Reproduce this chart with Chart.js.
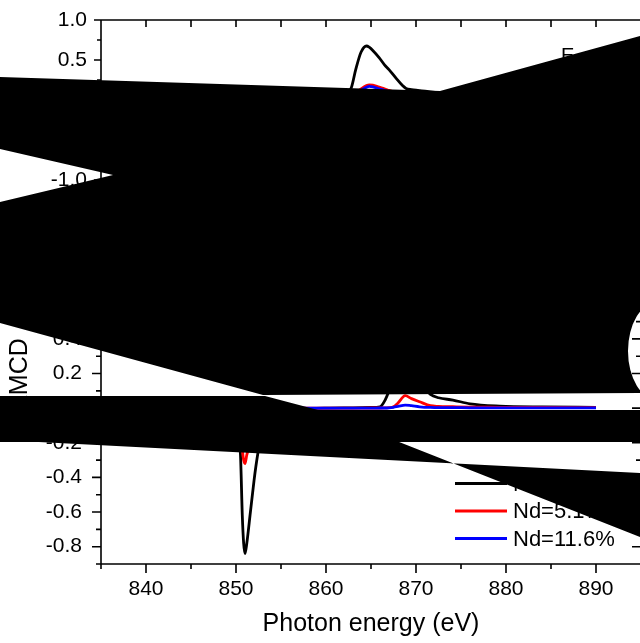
<!DOCTYPE html>
<html>
<head>
<meta charset="utf-8">
<script src="https://cdn.jsdelivr.net/npm/chart.js@4.4.1/dist/chart.umd.min.js"></script>
<style>
body { margin: 0; background: #fff; overflow: hidden; }
#wrap { position: relative; width: 640px; height: 643px; overflow: hidden; }
#wrap canvas { position: absolute; left: 0; top: 0; }
</style>
</head>
<body>
<div id="wrap">
  <canvas id="bottom" width="660" height="643"></canvas>
  <canvas id="top" width="660" height="240"></canvas>
  <canvas id="cover" width="640" height="643"></canvas>
</div>
<script>
// series labels / colours
var seriesLabels = ['Nd=0%', 'Nd=5.1%', 'Nd=11.6%'];
var seriesColors = ['#000000', '#ff0000', '#0000ff'];

// upper panel
var energyTop = [835.5, 840, 845, 848, 849.5, 850.3, 850.7, 851, 851.3, 851.7, 852.2, 853, 854, 856, 858, 860, 861.5, 862.3, 862.8, 863.3,
                 863.9, 864.5, 864.8, 865.2, 865.9, 866.5, 867, 867.8, 868.5, 868.9, 869.5, 870.2, 871, 872.5, 875, 878, 882, 886, 890];
var topNd0   = [0, 0, 0.01, 0.02, -0.05, -0.4, -1.0, -1.25, -1.1, -0.7, -0.35, -0.12, -0.02, 0.03, 0.05, 0.06, 0.08, 0.1, 0.15, 0.38,
                0.6, 0.675, 0.66, 0.62, 0.53, 0.44, 0.38, 0.27, 0.18, 0.145, 0.13, 0.12, 0.11, 0.09, 0.07, 0.06, 0.05, 0.05, 0.04];
var topNd51  = [0, 0, 0.005, 0.01, -0.02, -0.15, -0.35, -0.45, -0.4, -0.25, -0.12, -0.04, 0, 0.01, 0.02, 0.03, 0.04, 0.05, 0.06, 0.09,
                0.14, 0.18, 0.19, 0.185, 0.16, 0.14, 0.12, 0.09, 0.07, 0.06, 0.055, 0.05, 0.045, 0.04, 0.03, 0.025, 0.02, 0.02, 0.02];
var topNd116 = [0, 0, 0.004, 0.008, -0.015, -0.12, -0.28, -0.38, -0.33, -0.2, -0.1, -0.03, 0, 0.01, 0.02, 0.025, 0.035, 0.045, 0.05, 0.08,
                0.12, 0.16, 0.17, 0.165, 0.14, 0.12, 0.1, 0.08, 0.06, 0.055, 0.05, 0.045, 0.04, 0.035, 0.03, 0.025, 0.02, 0.02, 0.02];

// lower panel (XMCD)
var energyBot = [835.5, 840, 845, 848, 849.5, 850, 850.3, 850.5, 850.7, 850.85, 851, 851.2, 851.6, 852, 852.2, 852.5, 853, 854, 855, 857,
                 860, 863, 865, 866, 866.6, 867, 867.5, 868, 868.8, 869.5, 870.4, 871.6, 872.5, 874.1, 876, 879.3, 884, 890];
var xmcdNd0   = [0, 0, 0, -0.01, -0.03, -0.07, -0.15, -0.27, -0.62, -0.78, -0.84, -0.78, -0.6, -0.42, -0.34, -0.24, -0.14, -0.06, -0.03, -0.01,
                 0, 0.002, 0.004, 0.008, 0.05, 0.1, 0.18, 0.23, 0.245, 0.22, 0.15, 0.08, 0.06, 0.047, 0.025, 0.012, 0.007, 0.005];
var xmcdNd51  = [0, 0, 0, -0.005, -0.01, -0.03, -0.08, -0.15, -0.24, -0.3, -0.32, -0.27, -0.2, -0.12, -0.09, -0.06, -0.03, -0.01, -0.005, 0,
                 0, 0, 0.001, 0.001, 0.002, 0.003, 0.008, 0.03, 0.072, 0.055, 0.037, 0.014, 0.01, 0.008, 0.006, 0.005, 0.004, 0.003];
var xmcdNd116 = [0, 0, 0, -0.003, -0.008, -0.02, -0.05, -0.09, -0.13, -0.15, -0.16, -0.14, -0.1, -0.06, -0.045, -0.03, -0.015, -0.005, -0.002, 0,
                 0, 0, 0, 0.001, 0.001, 0.002, 0.005, 0.01, 0.018, 0.014, 0.008, 0.004, 0.003, 0.003, 0.002, 0.002, 0.002, 0.002];

// ticks
var xMajor = [840, 850, 860, 870, 880, 890];
var xMinor = [835, 845, 855, 865, 875, 885, 895];
var yTopMajor = [-1.5, -1.0, -0.5, 0.0, 0.5, 1.0];
var yTopMinor = [-1.25, -0.75, -0.25, 0.25, 0.75];
var yBotMajor = [-0.8, -0.6, -0.4, -0.2, 0.0, 0.2, 0.4, 0.6, 0.8, 1.0];
var yBotMinor = [-0.9, -0.7, -0.5, -0.3, -0.1, 0.1, 0.3, 0.5, 0.7, 0.9];

var FONT = '"Liberation Sans", Arial, sans-serif';

function pts(xs, ys) {
  return xs.map(function (x, i) { return { x: x, y: ys[i] }; });
}
function tickList(a, b) {
  return a.concat(b).sort(function (p, q) { return p - q; }).map(function (v) { return { value: v }; });
}
function isIn(list, v) {
  return list.some(function (m) { return Math.abs(m - v) < 1e-6; });
}
function makeSets(xs, series) {
  return series.map(function (s, i) {
    return {
      label: seriesLabels[i], data: pts(xs, s),
      borderColor: seriesColors[i], borderWidth: 2.8,
      pointRadius: 0, fill: false, cubicInterpolationMode: 'monotone',
      order: 2 - i
    };
  });
}

// Origin style frame with major / minor ticks
var framePlugin = {
  id: 'frame',
  afterDraw: function (chart, args, o) {
    var ctx = chart.ctx, a = chart.chartArea;
    var xs = chart.scales.x, ys = chart.scales.y;
    ctx.save();
    ctx.strokeStyle = '#000';
    ctx.lineWidth = 1.6;
    ctx.beginPath();
    ctx.rect(a.left, a.top, a.right - a.left, a.bottom - a.top);
    o.xMajor.concat(o.xMinor).forEach(function (v) {
      var p = xs.getPixelForValue(v);
      var len = isIn(o.xMajor, v) ? o.major : o.minor;
      ctx.moveTo(p, a.bottom); ctx.lineTo(p, a.bottom + len);
      ctx.moveTo(p, a.top); ctx.lineTo(p, a.top + (o.topLen || len));
    });
    o.yMajor.concat(o.yMinor).forEach(function (v) {
      var p = ys.getPixelForValue(v);
      var len = isIn(o.yMajor, v) ? o.major : o.minor;
      ctx.moveTo(a.left, p); ctx.lineTo(a.left - len, p);
      ctx.moveTo(a.right, p); ctx.lineTo(a.right - len, p);
    });
    ctx.stroke();
    ctx.restore();
  }
};

// legend and texts drawn inside the plot
var notesPlugin = {
  id: 'notes',
  afterDraw: function (chart, args, o) {
    var ctx = chart.ctx;
    ctx.save();
    ctx.fillStyle = '#000';
    if (o.legend) {
      ctx.font = '22px ' + FONT;
      ctx.textBaseline = 'middle';
      ctx.textAlign = 'left';
      chart.data.datasets.forEach(function (ds, i) {
        var y = 483.5 + i * 27.5;
        ctx.strokeStyle = ds.borderColor;
        ctx.lineWidth = 3;
        ctx.beginPath(); ctx.moveTo(455, y); ctx.lineTo(507, y); ctx.stroke();
        ctx.fillText(ds.label, 513, y + 1);
      });
      ctx.font = '25px ' + FONT;
      ctx.translate(20, 375);
      ctx.rotate(-Math.PI / 2);
      ctx.textAlign = 'center';
      ctx.fillText('XMCD', 0, 0);
    }
    if (o.mark) {
      ctx.font = '20px ' + FONT;
      ctx.textAlign = 'left';
      ctx.textBaseline = 'alphabetic';
      ctx.fillText(o.mark, chart.scales.x.getPixelForValue(886.1), chart.scales.y.getPixelForValue(0.65) + 14);
    }
    ctx.restore();
  }
};

function baseOptions(cfg) {
  return {
    responsive: false, animation: false, events: [],
    layout: { padding: { left: 0, right: 19, top: cfg.top, bottom: 0 } },
    plugins: {
      legend: { display: false }, tooltip: { enabled: false },
      frame: cfg.frame, notes: cfg.notes
    },
    scales: {
      x: {
        type: 'linear', min: 835, max: 895,
        grid: { display: false, drawTicks: false }, border: { display: false },
        afterBuildTicks: function (s) { s.ticks = tickList(xMajor, xMinor); },
        afterFit: function (s) { s.height = cfg.xHeight; s.paddingLeft = 0; s.paddingRight = 0; },
        ticks: {
          display: cfg.xLabels, autoSkip: false, maxRotation: 0, padding: 13, color: '#000',
          font: { family: FONT, size: 21 },
          callback: function (v) { return isIn(xMajor, v) ? String(v) : ''; }
        },
        title: {
          display: cfg.xLabels, text: 'Photon energy (eV)', color: '#000',
          font: { family: FONT, size: 25 }, padding: { top: 0, bottom: 4 }
        }
      },
      y: {
        type: 'linear', min: cfg.yMin, max: cfg.yMax,
        grid: { display: false, drawTicks: false }, border: { display: false },
        afterBuildTicks: function (s) { s.ticks = tickList(cfg.yMajor, cfg.yMinor); },
        afterFit: function (s) { s.width = 101; s.paddingTop = 0; s.paddingBottom = 0; },
        ticks: {
          autoSkip: false, padding: cfg.yPad, color: '#000',
          font: { family: FONT, size: 21 },
          callback: function (v) { return isIn(cfg.yMajor, v) ? v.toFixed(1) : ''; }
        }
      }
    }
  };
}

new Chart(document.getElementById('bottom'), {
  type: 'line',
  data: { datasets: makeSets(energyBot, [xmcdNd0, xmcdNd51, xmcdNd116]) },
  options: baseOptions({
    top: 235, xHeight: 79, xLabels: true, yMin: -0.9, yMax: 1.0,
    yMajor: yBotMajor, yMinor: yBotMinor, yPad: 19,
    frame: { xMajor: xMajor, xMinor: xMinor, yMajor: yBotMajor, yMinor: yBotMinor, major: 9, minor: 5 },
    notes: { legend: true }
  }),
  plugins: [framePlugin, notesPlugin]
});

new Chart(document.getElementById('top'), {
  type: 'line',
  data: { datasets: makeSets(energyTop, [topNd0, topNd51, topNd116]) },
  options: baseOptions({
    top: 20, xHeight: 20, xLabels: false, yMin: -1.5, yMax: 1.0,
    yMajor: yTopMajor, yMinor: yTopMinor, yPad: 14,
    frame: { xMajor: xMajor, xMinor: xMinor, yMajor: yTopMajor, yMinor: yTopMinor, major: 7, minor: 4, topLen: 7 },
    notes: { mark: 'E' }
  }),
  plugins: [framePlugin, notesPlugin]
});

// black shapes lying over the figure
var shapes = [
  [[0, 77], [440, 91], [640, 36], [640, 393], [263, 395], [0, 323], [0, 202], [113, 175], [0, 149]],
  [[0, 396], [265, 396], [318, 410], [640, 410], [640, 442], [0, 442]],
  [[0, 440], [640, 473], [640, 537], [318, 410]]
];
var cv = document.getElementById('cover').getContext('2d');
cv.save();
cv.beginPath();
cv.rect(0, 0, 640, 643);
cv.ellipse(658, 351, 30, 49, 0, 0, Math.PI * 2);
cv.clip('evenodd');
cv.fillStyle = '#000';
shapes.forEach(function (s) {
  cv.beginPath();
  s.forEach(function (p, i) { if (i === 0) cv.moveTo(p[0], p[1]); else cv.lineTo(p[0], p[1]); });
  cv.closePath();
  cv.fill();
});
cv.restore();
</script>
</body>
</html>
